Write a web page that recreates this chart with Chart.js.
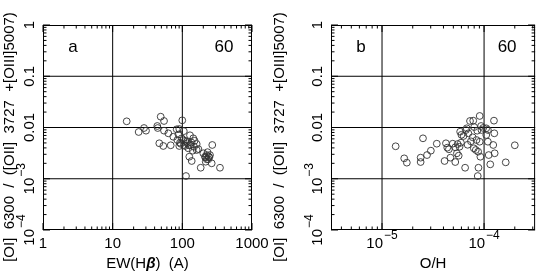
<!DOCTYPE html>
<html>
<head>
<meta charset="utf-8">
<script src="https://cdn.jsdelivr.net/npm/chart.js@4.4.1/dist/chart.umd.min.js"></script>
<style>
  html, body { margin: 0; padding: 0; background: #fff; }
  #wrap { display: flex; width: 540px; height: 280px; }
  canvas { display: block; }
</style>
</head>
<body>
<div id="wrap">
  <canvas id="panelA" width="270" height="280"></canvas>
  <canvas id="panelB" width="270" height="280"></canvas>
</div>
<script>
// --- data ---
const ewHbeta = [15.9, 48.9, 54.6, 99.8, 28.2, 23.6, 30.1, 43.7, 44.3, 54.6, 62.9, 83, 90.4, 74.2, 84.7,
  46.7, 53.3, 68.1, 92.5, 103, 115.5, 128.8, 143.6, 90.4, 109, 121.8, 131.8, 147, 160.7, 140.8,
  160.7, 125.9, 136.3, 200, 223.8, 243.8, 269, 216.5, 263.9, 183.5, 347, 112.9, 236, 105.6, 97.9,
  117.8, 211.5, 249.5, 223.8, 110, 95, 125, 150, 170, 230, 240, 105, 88, 135, 215];
const ratioA = [0.0132, 0.01625, 0.0134, 0.0138, 0.00977, 0.00817, 0.00867, 0.0107, 0.00977, 0.00867, 0.0077, 0.00922, 0.00935, 0.0066, 0.0057,
  0.00492, 0.00436, 0.0045, 0.00505, 0.0057, 0.00528, 0.00705, 0.00615, 0.00436, 0.00436, 0.00393, 0.00456, 0.00422, 0.00476, 0.00353,
  0.00364, 0.00269, 0.00222, 0.00314, 0.0029, 0.00262, 0.00456, 0.00215, 0.002, 0.00164, 0.00164, 0.00113, 0.0024, 0.00456, 0.00615,
  0.00492, 0.00269, 0.0029, 0.0024, 0.0055, 0.0048, 0.0045, 0.0055, 0.0038, 0.0033, 0.0027, 0.0085, 0.0073, 0.0051, 0.0026];

const ohAbund = [1.36e-5, 1.65e-5, 1.75e-5, 2.39e-5, 2.39e-5, 2.52e-5, 2.76e-5, 3.01e-5, 3.44e-5, 4.10e-5, 4.23e-5, 4.36e-5, 4.52e-5, 4.68e-5, 4.93e-5,
  5.22e-5, 5.42e-5, 5.64e-5, 5.75e-5, 5.93e-5, 5.83e-5, 6.29e-5, 6.65e-5, 6.76e-5, 7.28e-5, 7.83e-5, 7.01e-5, 7.43e-5, 6.52e-5, 7.94e-5,
  8.43e-5, 8.30e-5, 8.57e-5, 9.06e-5, 9.35e-5, 9.06e-5, 8.75e-5, 9.20e-5, 8.81e-5, 8.67e-5, 9.42e-5, 1.05e-4, 1.09e-4, 1.05e-4, 1.09e-4,
  1.11e-4, 1.15e-4, 1.23e-4, 1.26e-4, 1.25e-4, 1.27e-4, 1.63e-4, 2.0e-4, 5.22e-5, 5.51e-5, 7.73e-5, 6.0e-5, 8.0e-5, 9.8e-5, 6.9e-5];
const ratioB = [0.0043, 0.0025, 0.00206, 0.00258, 0.00212, 0.00615, 0.0029, 0.00353, 0.00483, 0.00222, 0.00492, 0.00404, 0.00376, 0.00258, 0.00483,
  0.00212, 0.00314, 0.00282, 0.00422, 0.00505, 0.00828, 0.00683, 0.00894, 0.00965, 0.0134, 0.0136, 0.0077, 0.00538, 0.00164, 0.00393,
  0.0057, 0.00364, 0.00867, 0.0168, 0.0107, 0.00528, 0.00337, 0.00269, 0.00164, 0.00113, 0.00894, 0.00965, 0.00894, 0.00714, 0.00528,
  0.0029, 0.00191, 0.00456, 0.0077, 0.0136, 0.00314, 0.00209, 0.0045, 0.00411, 0.00476, 0.00644, 0.0072, 0.0102, 0.0098, 0.0046];

const yTicks = [1, 0.1, 0.01, 1e-3, 1e-4];
const yTickLabels = ['1', '0.1', '0.01', '10^\u22123', '10^\u22124'];
const xTicksA = [1, 10, 100, 1000];
const xTickLabelsA = ['1', '10', '100', '1000'];
const xTicksB = [1e-5, 1e-4];
const xTickLabelsB = ['10^\u22125', '10^\u22124'];

const yTitle = '[OI]  6300  /  ([OII]  3727  +[OIII]5007)';
const FONT = '"Liberation Sans", Arial, sans-serif';

// draws "10^-3" style text centred on (x, y), optionally turned to read upward
function drawTickText(ctx, txt, x, y, rotate) {
  const [base, exp] = txt.split('^');
  ctx.save();
  ctx.translate(x, y);
  if (rotate) ctx.rotate(-Math.PI / 2);
  ctx.fillStyle = '#000';
  ctx.textBaseline = 'middle';
  ctx.textAlign = 'left';
  ctx.font = '15px ' + FONT;
  const wb = ctx.measureText(base).width;
  let we = 0;
  if (exp) {
    ctx.font = '12px ' + FONT;
    we = ctx.measureText(exp).width + 1;
  }
  const x0 = -(wb + we) / 2;
  ctx.font = '15px ' + FONT;
  ctx.fillText(base, x0, 0);
  if (exp) {
    ctx.font = '12px ' + FONT;
    ctx.fillText(exp, x0 + wb + 1, -8);
  }
  ctx.restore();
}

function logMarks(min, max) {
  const out = [];
  for (let d = Math.floor(Math.log10(min)); d <= Math.ceil(Math.log10(max)); d++) {
    for (let m = 1; m <= 9; m++) {
      const v = m * Math.pow(10, d);
      if (v >= min * 0.999 && v <= max * 1.001) out.push({ v, major: m === 1 });
    }
  }
  return out;
}

// frame, inside ticks, decade grid and all the text
const framePlugin = {
  id: 'frame',
  beforeDatasetsDraw(chart, args, o) {
    const { ctx, chartArea: a, scales: { x, y } } = chart;
    ctx.save();
    ctx.strokeStyle = '#000';
    ctx.lineWidth = 1;
    ctx.beginPath();
    o.xTicks.forEach(v => {
      const px = x.getPixelForValue(v);
      if (px > a.left + 1 && px < a.right - 1) { ctx.moveTo(px, a.top); ctx.lineTo(px, a.bottom); }
    });
    yTicks.forEach(v => {
      const py = y.getPixelForValue(v);
      if (py > a.top + 1 && py < a.bottom - 1) { ctx.moveTo(a.left, py); ctx.lineTo(a.right, py); }
    });
    ctx.stroke();
    ctx.restore();
  },
  afterDatasetsDraw(chart, args, o) {
    const { ctx, chartArea: a, scales: { x, y } } = chart;
    ctx.save();
    ctx.strokeStyle = '#000';
    ctx.lineWidth = 1;
    ctx.strokeRect(a.left + 0.5, a.top + 0.5, a.right - a.left - 1, a.bottom - a.top - 1);

    ctx.beginPath();
    logMarks(x.min, x.max).forEach(t => {
      const px = x.getPixelForValue(t.v);
      const len = t.major ? 7 : 3.5;
      ctx.moveTo(px, a.bottom); ctx.lineTo(px, a.bottom - len);
      ctx.moveTo(px, a.top); ctx.lineTo(px, a.top + len);
    });
    logMarks(y.min, y.max).forEach(t => {
      const py = y.getPixelForValue(t.v);
      const len = t.major ? 7 : 3.5;
      ctx.moveTo(a.left, py); ctx.lineTo(a.left + len, py);
      ctx.moveTo(a.right, py); ctx.lineTo(a.right - len, py);
    });
    ctx.stroke();

    // tick labels
    o.xTicks.forEach((v, i) => drawTickText(ctx, o.xLabels[i], x.getPixelForValue(v), a.bottom + 14, false));
    yTicks.forEach((v, i) => drawTickText(ctx, yTickLabels[i], a.left - 13, y.getPixelForValue(v), true));

    // axis titles
    ctx.fillStyle = '#000';
    ctx.textBaseline = 'middle';
    const cx = (a.left + a.right) / 2;
    const parts = o.xTitle;
    let w = 0;
    parts.forEach(p => { ctx.font = p[1] + ' 15px ' + FONT; w += ctx.measureText(p[0]).width; });
    let xx = cx - w / 2;
    ctx.textAlign = 'left';
    parts.forEach(p => { ctx.font = p[1] + ' 15px ' + FONT; ctx.fillText(p[0], xx, 264); xx += ctx.measureText(p[0]).width; });

    ctx.save();
    ctx.translate(10, 137);
    ctx.rotate(-Math.PI / 2);
    ctx.textAlign = 'center';
    ctx.font = '15px ' + FONT;
    ctx.fillText(yTitle, 0, 0);
    ctx.restore();

    // panel letter and count
    ctx.font = '17px ' + FONT;
    ctx.textAlign = 'center';
    ctx.fillText(o.letter, a.left + 30, 47);
    ctx.fillText(o.count, a.right - 28, 47);
    ctx.restore();
  }
};

function makePanel(id, xs, ys, xmin, xmax, pad, frameOpts) {
  const pts = xs.map((v, i) => ({ x: v, y: ys[i] }));
  return new Chart(document.getElementById(id), {
    type: 'scatter',
    data: {
      datasets: [{
        data: pts,
        pointStyle: 'circle',
        pointRadius: 3.4,
        pointBorderWidth: 0.9,
        pointBorderColor: '#333',
        pointBackgroundColor: 'rgba(0,0,0,0)'
      }]
    },
    options: {
      responsive: false,
      animation: false,
      layout: { padding: pad },
      plugins: {
        legend: { display: false },
        tooltip: { enabled: false },
        frame: frameOpts
      },
      scales: {
        x: { type: 'logarithmic', min: xmin, max: xmax, display: false },
        y: { type: 'logarithmic', min: 1e-4, max: 1, display: false }
      }
    },
    plugins: [framePlugin]
  });
}

makePanel('panelA', ewHbeta, ratioA, 1, 1000,
  { left: 43, right: 18, top: 25, bottom: 50 },
  { xTicks: xTicksA, xLabels: xTickLabelsA, letter: 'a', count: '60',
    xTitle: [['EW(H', ''], ['\u03B2', 'italic bold'], [')  (A)', '']] });

makePanel('panelB', ohAbund, ratioB, Math.pow(10, -5.5), Math.pow(10, -3.5),
  { left: 61, right: 1, top: 25, bottom: 50 },
  { xTicks: xTicksB, xLabels: xTickLabelsB, letter: 'b', count: '60',
    xTitle: [['O/H', '']] });
</script>
</body>
</html>
